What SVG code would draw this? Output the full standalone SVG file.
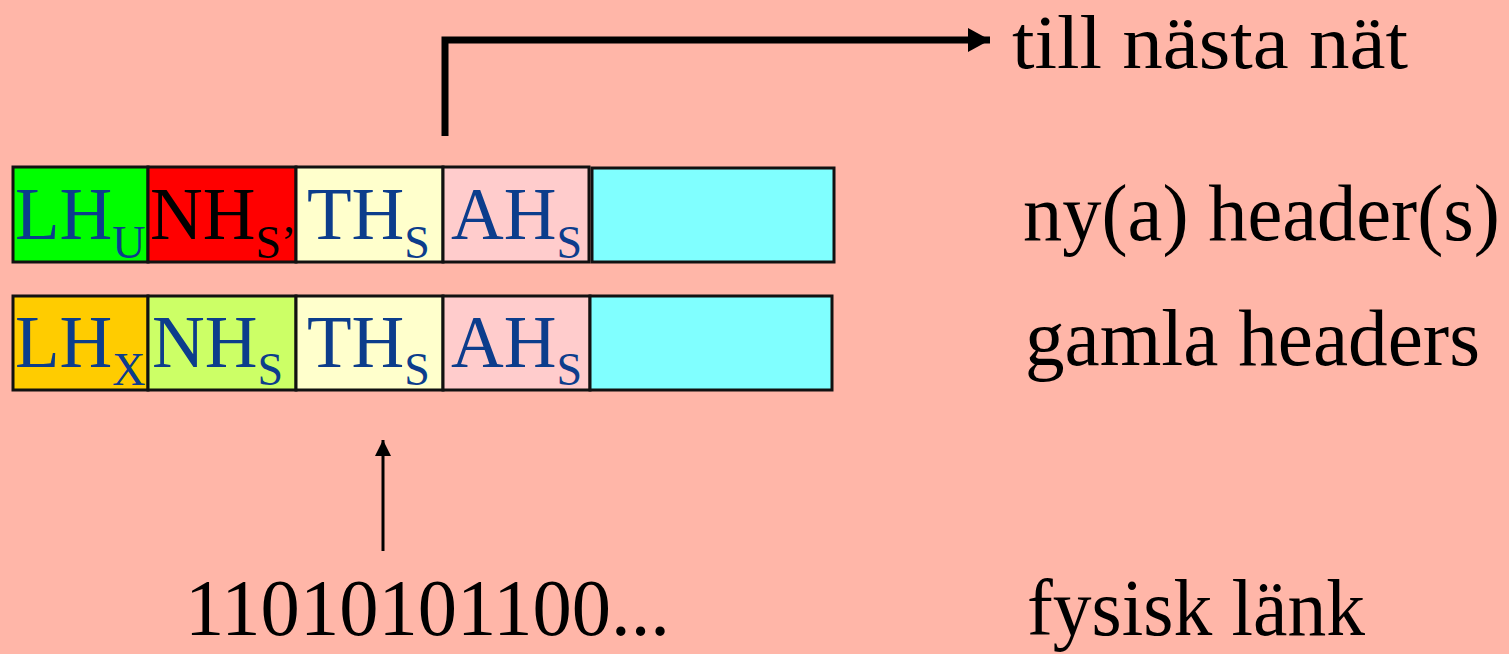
<svg xmlns="http://www.w3.org/2000/svg" width="1509" height="654" viewBox="0 0 1509 654">
  <style>
    .box { stroke: #111; stroke-width: 3; }
    .lbl { font-family: "Liberation Serif", "DejaVu Serif", serif; font-size: 73px; fill: #0C3D8C; }
    .sub { font-size: 46px; }
    .side { font-family: "Liberation Serif", "DejaVu Serif", serif; font-size: 80px; fill: #000; }
    .conn { fill: none; stroke: #000; }
  </style>
  <defs>
    <marker id="headBig" markerUnits="userSpaceOnUse" markerWidth="24" markerHeight="26" refX="22" refY="12" orient="auto">
      <path d="M0,0 L22,12 L0,24 Z" fill="#000"/>
    </marker>
    <marker id="headSmall" markerUnits="userSpaceOnUse" markerWidth="18" markerHeight="18" refX="16" refY="8" orient="auto">
      <path d="M0,0 L16,8 L0,16 Z" fill="#000"/>
    </marker>
  </defs>
  <rect x="0" y="0" width="1509" height="654" fill="#FFB6A8"/>

  <!-- row 1: new headers -->
  <g id="row1-LHU">
    <rect class="box" x="13" y="167" width="135" height="95" fill="#00FF00"/>
    <text class="lbl" x="15" y="239">LH<tspan class="sub" dy="19">U</tspan></text>
  </g>
  <g id="row1-NHS">
    <rect class="box" x="148" y="167" width="148" height="95" fill="#FF0000"/>
    <text class="lbl" x="150" y="239" style="fill:#000">NH<tspan class="sub" dy="19">S’</tspan></text>
  </g>
  <g id="row1-THS">
    <rect class="box" x="296" y="167" width="147" height="95" fill="#FFFFCC"/>
    <text class="lbl" x="307" y="239">TH<tspan class="sub" dy="19">S</tspan></text>
  </g>
  <g id="row1-AHS">
    <rect class="box" x="443" y="167" width="146" height="95" fill="#FFCCCC"/>
    <text class="lbl" x="451" y="239">AH<tspan class="sub" dy="19">S</tspan></text>
  </g>
  <g id="row1-data">
    <rect class="box" x="592" y="168" width="242" height="94" fill="#80FFFF"/>
  </g>

  <!-- row 2: old headers -->
  <g id="row2-LHX">
    <rect class="box" x="13" y="296" width="135" height="94" fill="#FFCC00"/>
    <text class="lbl" x="15" y="367">LH<tspan class="sub" dy="18">X</tspan></text>
  </g>
  <g id="row2-NHS">
    <rect class="box" x="148" y="296" width="148" height="94" fill="#CCFF66"/>
    <text class="lbl" x="152" y="367">NH<tspan class="sub" dy="18">S</tspan></text>
  </g>
  <g id="row2-THS">
    <rect class="box" x="296" y="296" width="147" height="94" fill="#FFFFCC"/>
    <text class="lbl" x="307" y="367">TH<tspan class="sub" dy="18">S</tspan></text>
  </g>
  <g id="row2-AHS">
    <rect class="box" x="443" y="296" width="147" height="94" fill="#FFCCCC"/>
    <text class="lbl" x="451" y="367">AH<tspan class="sub" dy="18">S</tspan></text>
  </g>
  <g id="row2-data">
    <rect class="box" x="590" y="296" width="242" height="94" fill="#80FFFF"/>
  </g>

  <!-- labels -->
  <g id="label-next">
    <text class="side" x="1012" y="68" style="font-size:76px" textLength="396" lengthAdjust="spacingAndGlyphs">till nästa nät</text>
  </g>
  <g id="label-new">
    <text class="side" x="1023" y="240" textLength="477" lengthAdjust="spacingAndGlyphs">ny(a) header(s)</text>
  </g>
  <g id="label-old">
    <text class="side" x="1025" y="365" textLength="455" lengthAdjust="spacingAndGlyphs">gamla headers</text>
  </g>
  <g id="label-bits">
    <text class="side" x="185" y="635" textLength="485" lengthAdjust="spacingAndGlyphs">11010101100...</text>
  </g>
  <g id="label-phys">
    <text class="side" x="1027" y="635" textLength="338" lengthAdjust="spacingAndGlyphs">fysisk länk</text>
  </g>

  <!-- connectors -->
  <g id="connectors">
    <polyline class="conn" points="445,136 445,40 990,40" stroke-width="7" stroke-linejoin="miter" marker-end="url(#headBig)"/>
    <line class="conn" x1="383" y1="551" x2="383" y2="440" stroke-width="3" marker-end="url(#headSmall)"/>
  </g>
</svg>
